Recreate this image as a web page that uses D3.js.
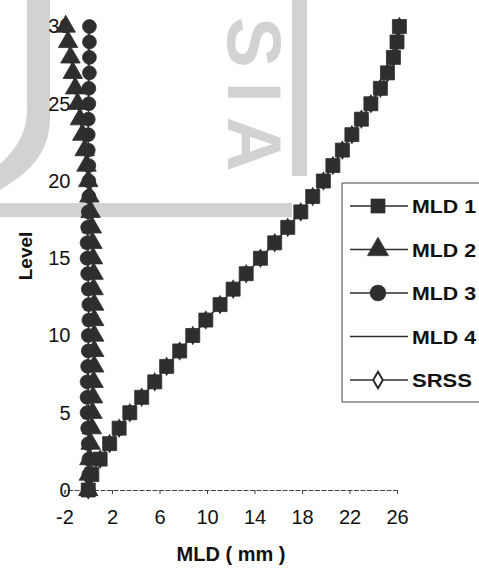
<!DOCTYPE html>
<html>
<head>
<meta charset="utf-8">
<script src="https://cdn.jsdelivr.net/npm/d3@7"></script>
<style>
  html, body { margin: 0; padding: 0; background: #fff; }
  svg { display: block; font-family: "Liberation Sans", Arial, sans-serif; }
</style>
</head>
<body>
<svg id="chart" width="479" height="573"></svg>
<script>
// ---- data ----
const levels = [0,1,2,3,4,5,6,7,8,9,10,11,12,13,14,15,16,17,18,19,20,21,22,23,24,25,26,27,28,29,30];
const mld1 = [0, 0.3, 1.0, 1.8, 2.6, 3.5, 4.5, 5.6, 6.6, 7.7, 8.8, 9.9, 11.1, 12.2, 13.3, 14.5, 15.7, 16.8, 17.9, 18.9, 19.8, 20.6, 21.4, 22.2, 23.0, 23.8, 24.6, 25.2, 25.7, 26.0, 26.2];
const mld2 = [0, 0.05, 0.1, 0.2, 0.3, 0.35, 0.4, 0.45, 0.5, 0.5, 0.5, 0.5, 0.5, 0.45, 0.45, 0.4, 0.35, 0.3, 0.2, 0.1, 0, -0.15, -0.3, -0.5, -0.7, -0.9, -1.1, -1.3, -1.5, -1.7, -1.9];
const mld3 = [0, 0.05, 0.05, 0, -0.05, -0.1, -0.1, -0.1, -0.05, 0, 0, 0.05, 0.05, 0, -0.05, -0.1, -0.1, -0.05, 0, 0.05, 0.05, 0.05, 0, 0, 0, 0.05, 0.05, 0.1, 0.1, 0.1, 0.1];
const mld4 = [0, 0, 0.01, 0.01, 0.01, 0.02, 0.02, 0.02, 0.02, 0.02, 0.02, 0.02, 0.01, 0.01, 0, 0, -0.01, -0.01, -0.01, -0.01, 0, 0, 0, 0.01, 0.01, 0.01, 0.01, 0, 0, 0, 0];
const srss = [0, 0.3, 1.0, 1.8, 2.6, 3.5, 4.5, 5.6, 6.6, 7.7, 8.8, 9.9, 11.1, 12.2, 13.3, 14.5, 15.7, 16.8, 17.9, 18.9, 19.8, 20.6, 21.4, 22.2, 23.0, 23.8, 24.6, 25.2, 25.7, 26.0, 26.2];
const seriesNames = ["MLD 1", "MLD 2", "MLD 3", "MLD 4", "SRSS"];
const xTicks = [-2, 2, 6, 10, 14, 18, 22, 26];
const yTicks = [0, 5, 10, 15, 20, 25, 30];
const xTitle = "MLD ( mm )";
const yTitle = "Level";

// ---- setup ----
const svg = d3.select("#chart");
const x = d3.scaleLinear().domain([-2, 26]).range([64.5, 397]);
const y = d3.scaleLinear().domain([0, 30]).range([490, 26.5]);
const ink = "#2e2e2e";
const wm = "#d2d2d2";

// ---- faint watermark (background of the scanned page) ----
const w = svg.append("g");
w.append("rect").attr("x", 292).attr("y", 0).attr("width", 15).attr("height", 176).attr("fill", wm);
w.append("rect").attr("x", 0).attr("y", 203).attr("width", 292).attr("height", 14).attr("fill", wm);
w.append("path").attr("d", "M27,0 L50,0 L50,118 Q50,158 12,182 L0,190 L0,164 Q27,140 27,110 Z").attr("fill", wm);
w.append("text").attr("transform", "translate(228,17) rotate(90)")
  .attr("font-size", 76).attr("font-weight", "bold").attr("fill", wm)
  .attr("letter-spacing", 14).text("SIA");

// ---- x axis ----
const xa = svg.append("g").attr("transform", `translate(0,${y(0)})`)
  .call(d3.axisBottom(x).tickValues(xTicks).tickSize(4).tickPadding(16).tickFormat(d3.format("d")));
xa.select(".domain").attr("stroke", "#444").attr("stroke-width", 1).attr("stroke-dasharray", "5,1.5");
xa.selectAll(".tick line").attr("stroke", "#444");
xa.selectAll(".tick text").attr("font-size", 20).attr("fill", "#111").attr("font-family", "Liberation Sans, Arial, sans-serif")
  .text(d => d < 0 ? "-" + Math.abs(d) : d);

// ---- y axis (labels only) ----
const ya = svg.append("g").attr("transform", `translate(${x(-2)},0)`)
  .call(d3.axisLeft(y).tickValues(yTicks).tickSize(0).tickPadding(-6));
ya.select(".domain").remove();
ya.selectAll(".tick text").attr("font-size", 20).attr("fill", "#111").attr("font-family", "Liberation Sans, Arial, sans-serif");

// ---- titles ----
svg.append("text").attr("x", 231).attr("y", 561).attr("text-anchor", "middle")
  .attr("font-size", 20).attr("font-weight", "bold").attr("fill", "#111").text(xTitle);
svg.append("text").attr("transform", "translate(32,256) rotate(-90)").attr("text-anchor", "middle")
  .attr("font-size", 19).attr("font-weight", "bold").attr("fill", "#111").text(yTitle);

// ---- series ----
const allSeries = [
  { name: seriesNames[0], vals: mld1, shape: "square" },
  { name: seriesNames[1], vals: mld2, shape: "triangle" },
  { name: seriesNames[2], vals: mld3, shape: "circle" },
  { name: seriesNames[3], vals: mld4, shape: "none" },
  { name: seriesNames[4], vals: srss, shape: "diamond" }
];
const typeOf = {square: d3.symbolSquare, triangle: d3.symbolTriangle, circle: d3.symbolCircle, diamond: d3.symbolDiamond};
const sizeOf = {square: 196, triangle: 165, circle: 150, diamond: 80};
const line = d3.line().x(d => x(d.v)).y(d => y(d.l));

function drawSeries(s) {
  const pts = levels.map((l, i) => ({ l, v: s.vals[i] }));
  const g = svg.append("g");
  g.append("path").datum(pts).attr("d", line).attr("fill", "none").attr("stroke", ink).attr("stroke-width", 1.2);
  if (s.shape !== "none") {
    g.selectAll("path.m").data(pts).join("path").attr("class", "m")
      .attr("transform", d => `translate(${x(d.v)},${y(d.l)})`)
      .attr("d", d3.symbol().type(typeOf[s.shape]).size(sizeOf[s.shape])())
      .attr("fill", s.shape === "diamond" ? "#fff" : ink)
      .attr("stroke", ink).attr("stroke-width", s.shape === "diamond" ? 1.5 : 0.8);
  }
}
// SRSS lies underneath (hidden by MLD 1), then the rest in order
drawSeries(allSeries[4]);
drawSeries(allSeries[3]);
drawSeries(allSeries[0]);
drawSeries(allSeries[1]);
drawSeries(allSeries[2]);

// ---- legend ----
const lg = svg.append("g");
lg.append("path").attr("d", "M484,183 L342,183 L342,402 L484,402").attr("fill", "#fff")
  .attr("stroke", "#444").attr("stroke-width", 1);
allSeries.forEach((s, i) => {
  const cy = 206 + i * 43.5;
  lg.append("line").attr("x1", 350).attr("x2", 408).attr("y1", cy).attr("y2", cy).attr("stroke", ink).attr("stroke-width", 1.5);
  if (s.shape !== "none") {
    lg.append("path").attr("transform", `translate(378,${cy})`)
      .attr("d", d3.symbol().type(typeOf[s.shape]).size(s.shape === "diamond" ? 80 : 200)())
      .attr("fill", s.shape === "diamond" ? "#fff" : ink).attr("stroke", ink).attr("stroke-width", s.shape === "diamond" ? 2 : 0.5);
  }
  lg.append("text").attr("x", 412).attr("y", cy + 7).attr("font-size", 19).attr("font-weight", "bold").attr("fill", "#111")
    .attr("textLength", s.name === "SRSS" ? 60 : 64).attr("lengthAdjust", "spacingAndGlyphs").text(s.name);
});
</script>
</body>
</html>
